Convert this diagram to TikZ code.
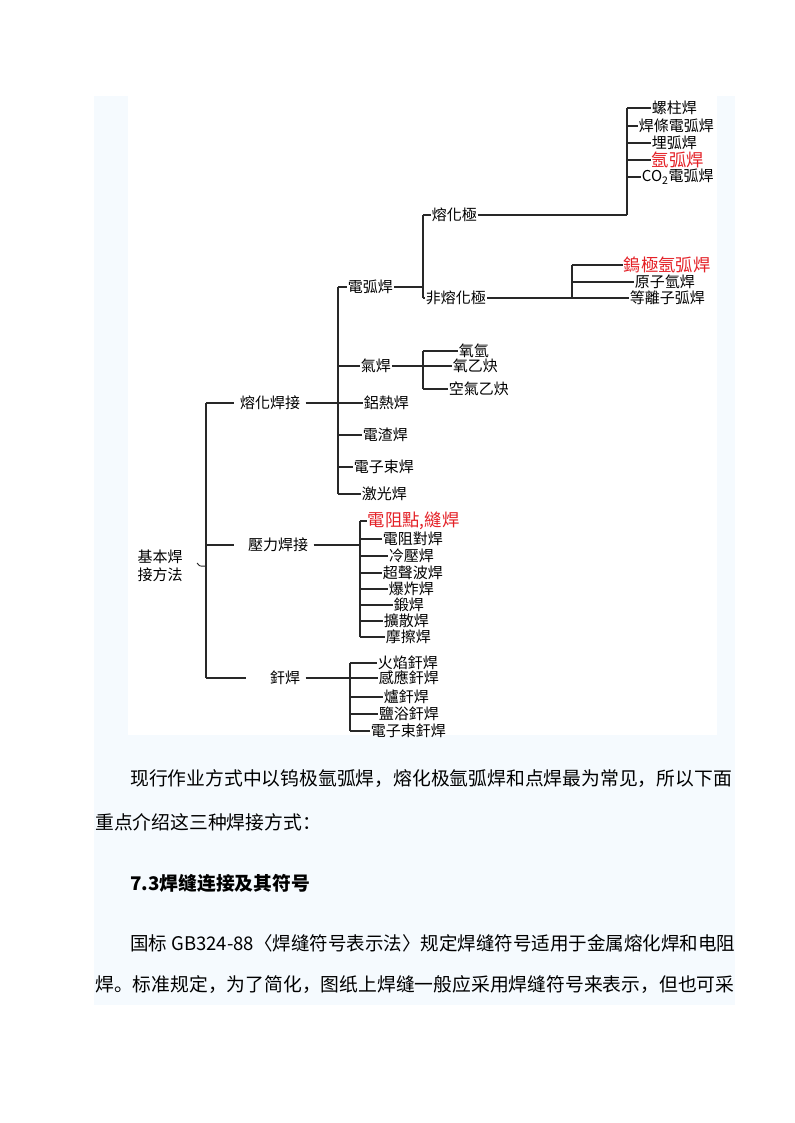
\documentclass[tikz,border=0pt]{standalone}
\usepackage{fontspec}
\newfontfamily\tcfont{Noto Sans CJK TC}
\newfontfamily\scfont{Noto Sans CJK SC}
\definecolor{wred}{RGB}{228,32,38}
\definecolor{wline}{RGB}{40,40,40}
\definecolor{pagebg}{RGB}{245,250,254}
\tikzset{
  wire/.style={line width=1pt, draw=wline},
  leaf/.style={font=\tcfont\fontsize{11.25}{13}\selectfont, inner sep=0.5pt, anchor=west},
  hot/.style={leaf, text=wred, font=\tcfont\fontsize{13}{15}\selectfont},
  mid/.style={font=\tcfont\fontsize{11.25}{13}\selectfont, inner xsep=4pt, inner ysep=0.5pt},
  body/.style={font=\scfont\fontsize{14.1}{18}\selectfont, inner sep=0pt, anchor=west}
}
\begin{document}
\begin{tikzpicture}[x=0.75pt,y=-0.75pt]
\useasboundingbox (0,0) rectangle (794,1123);
\fill[pagebg] (94,96) rectangle (735,1005);
\fill[white] (128,96) rectangle (717,735);

% root and first level
\node[mid, align=center, font=\tcfont\fontsize{11.25}{13.5}\selectfont] (root) at (160,566) {基本焊\\接方法};
\coordinate (tRoot) at (206,0);
\node[mid] (rh) at (270,403) {熔化焊接};
\node[mid] (yl) at (278,545) {壓力焊接};
\node[mid] (qh) at (285,678) {釬焊};
\draw[wire] (tRoot |- rh) -- (tRoot |- qh);
\draw[wire,line width=0.7pt] ([shift={(9,-3)}]root.east) .. controls +(3,4) and +(-6,0) .. (tRoot |- root);
\draw[wire] (tRoot |- rh) -- (rh.west);
\draw[wire] (tRoot |- yl) -- ([xshift=-6pt]yl.west);
\draw[wire] (tRoot |- qh) -- ([xshift=-14pt]qh.west);

% fusion welding
\coordinate (tRh) at (338,0);
\node[leaf] (dh)  at (347,287) {電弧焊};
\node[leaf] (qih) at (360,366) {氣焊};
\node[leaf] (lr)  at (363,403) {鋁熱焊};
\node[leaf] (dz)  at (362,435) {電渣焊};
\node[leaf] (dzs) at (353,467) {電子束焊};
\node[leaf] (jg)  at (361,494) {激光焊};
\draw[wire] (rh.east) -- (tRh |- rh);
\draw[wire] (tRh |- dh) -- (tRh |- jg);
\foreach \n in {dh,qih,lr,dz,dzs,jg}
  \draw[wire] (tRh |- \n) -- (\n.west);

% arc welding
\coordinate (tDh) at (423,0);
\node[leaf] (rj)  at (431,215) {熔化極};
\node[leaf] (frj) at (425,298) {非熔化極};
\draw[wire] (dh.east) -- (tDh |- dh);
\draw[wire] (tDh |- rj) -- (tDh |- frj);
\foreach \n in {rj,frj}
  \draw[wire] (tDh |- \n) -- (\n.west);

\coordinate (tRj) at (627,0);
\node[leaf] (lz) at (651,108) {螺柱焊};
\node[leaf] (ht) at (638,126) {焊條電弧焊};
\node[leaf] (mh) at (651,143) {埋弧焊};
\node[hot]  (yh) at (651,160) {氬弧焊};
\node[leaf] (co) at (641,177) {CO\textsubscript{2}電弧焊};
\draw[wire] (rj.east) -- (tRj |- rj);
\draw[wire] (tRj |- lz) -- (tRj |- rj);
\foreach \n in {lz,ht,mh,yh,co}
  \draw[wire] (tRj |- \n) -- (\n.west);

\coordinate (tFrj) at (572,0);
\node[hot]  (wj)  at (623,265) {鎢極氬弧焊};
\node[leaf] (yzq) at (634,282) {原子氫焊};
\node[leaf] (dlz) at (629,298) {等離子弧焊};
\draw[wire] (frj.east) -- (tFrj |- frj);
\draw[wire] (tFrj |- wj) -- (tFrj |- dlz);
\foreach \n in {wj,yzq,dlz}
  \draw[wire] (tFrj |- \n) -- (\n.west);

% gas welding
\coordinate (tQi) at (423,0);
\node[leaf] (yq) at (458,351) {氧氫};
\node[leaf] (yy) at (452,366) {氧乙炔};
\node[leaf] (kq) at (448,389) {空氣乙炔};
\draw[wire] (qih.east) -- (tQi |- qih);
\draw[wire] (tQi |- yq) -- (tQi |- kq);
\foreach \n in {yq,yy,kq}
  \draw[wire] (tQi |- \n) -- (\n.west);

% pressure welding
\coordinate (tYl) at (360,0);
\node[hot]  (dzd)  at (367,521) {電阻點,縫焊};
\node[leaf] (dzdh) at (382,539) {電阻對焊};
\node[leaf] (ly)   at (388,556) {冷壓焊};
\node[leaf] (csb)  at (382,573) {超聲波焊};
\node[leaf] (bz)   at (388,589) {爆炸焊};
\node[leaf] (dj)   at (393,605) {鍛焊};
\node[leaf] (ks)   at (383,621) {擴散焊};
\node[leaf] (mc)   at (385,637) {摩擦焊};
\draw[wire] (yl.east) -- (tYl |- yl);
\draw[wire] (tYl |- dzd) -- (tYl |- mc);
\foreach \n in {dzd,dzdh,ly,csb,bz,dj,ks,mc}
  \draw[wire] (tYl |- \n) -- (\n.west);

% brazing
\coordinate (tQh) at (350,0);
\node[leaf] (hy)  at (377,663) {火焰釬焊};
\node[leaf] (gy)  at (378,678) {感應釬焊};
\node[leaf] (lu)  at (383,697) {爐釬焊};
\node[leaf] (yz)  at (378,714) {鹽浴釬焊};
\node[leaf] (dzq) at (370,731) {電子束釬焊};
\draw[wire] (qh.east) -- (tQh |- qh);
\draw[wire] (tQh |- hy) -- (tQh |- dzq);
\foreach \n in {hy,gy,lu,yz,dzq}
  \draw[wire] (tQh |- \n) -- (\n.west);

% text below the chart
\node[body] (p1) at (130,779) {现行作业方式中以钨极氩弧焊，熔化极氩弧焊和点焊最为常见，所以下面};
\node[body] (p2) at (95,822) {重点介绍这三种焊接方式：};
\node[body, font=\scfont\bfseries\fontsize{14.1}{18}\selectfont] (h73) at (130,883) {7.3焊缝连接及其符号};
\node[body] (p3) at (130,943) {\scalebox{0.984}[1]{国标 GB324-88〈焊缝符号表示法〉规定焊缝符号适用于金属熔化焊和电阻}};
\node[body] (p4) at (95,985) {焊。标准规定，为了简化，图纸上焊缝一般应采用焊缝符号来表示，但也可采};
\end{tikzpicture}
\end{document}
